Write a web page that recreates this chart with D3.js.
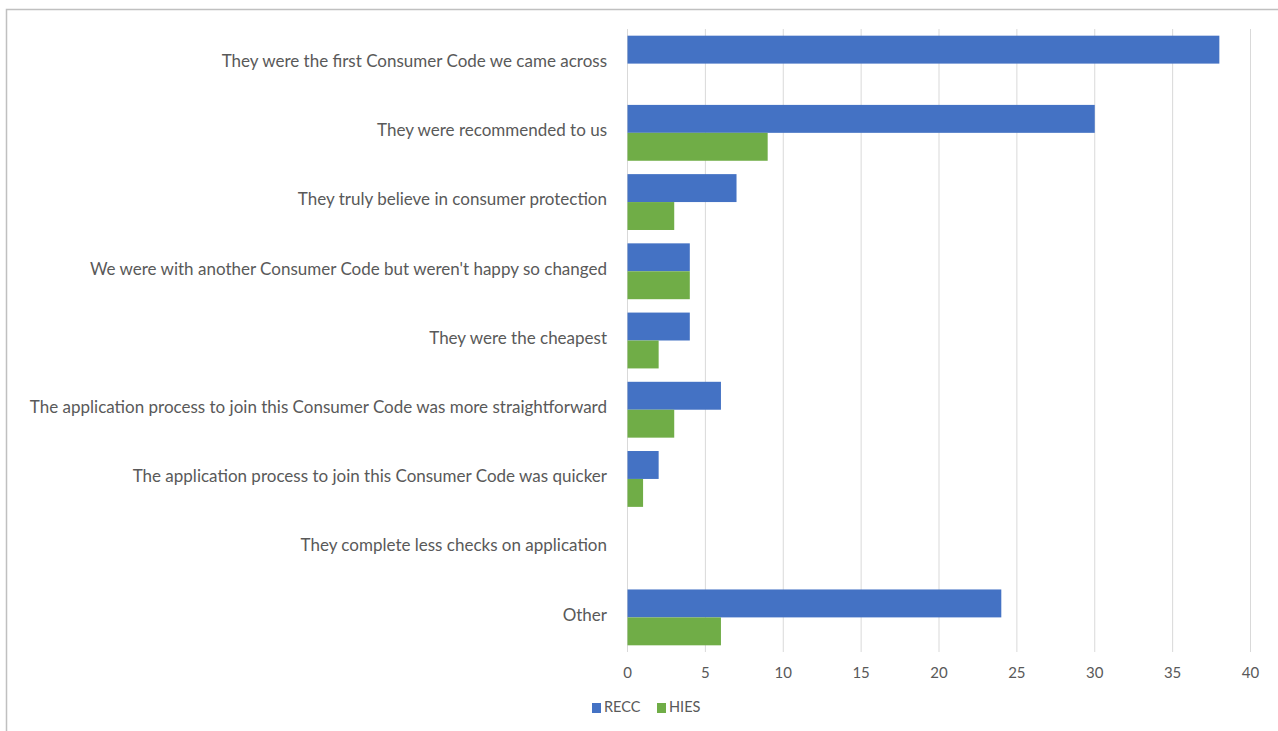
<!DOCTYPE html>
<html>
<head>
<meta charset="utf-8">
<script src="https://cdn.jsdelivr.net/npm/d3@7"></script>
<style>
  html, body { margin: 0; padding: 0; background: #fff; }
  svg { display: block; }
  text { font-family: Lato, "Open Sans", "Liberation Sans", sans-serif; fill: #595959; }
</style>
</head>
<body>
<svg id="chart" width="1278" height="731"></svg>
<script>
const categories = [
  "They were the first Consumer Code we came across",
  "They were recommended to us",
  "They truly believe in consumer protection",
  "We were with another Consumer Code but weren't happy so changed",
  "They were the cheapest",
  "The application process to join this Consumer Code was more straightforward",
  "The application process to join this Consumer Code was quicker",
  "They complete less checks on application",
  "Other"
];
const seriesNames = ["RECC", "HIES"];
const reccValues = [38, 30, 7, 4, 4, 6, 2, 0, 24];
const hiesValues = [0, 9, 3, 4, 2, 3, 1, 0, 6];
const xTicks = [0, 5, 10, 15, 20, 25, 30, 35, 40];
const colors = { RECC: "#4472C4", HIES: "#70AD47" };

const svg = d3.select("#chart");

// outer border
svg.append("rect")
  .attr("x", 6.5).attr("y", 9.5)
  .attr("width", 1400).attr("height", 900)
  .attr("fill", "none").attr("stroke", "#c0c0c0").attr("stroke-width", 1.5);

const plotTop = 29, plotBottom = 652;
const x = d3.scaleLinear().domain([0, 40]).range([627, 1250]);
const y = d3.scaleBand().domain(categories).range([plotTop, plotBottom])
  .paddingInner(0.193).paddingOuter(0.0965);
const sub = d3.scaleBand().domain(seriesNames).range([0, y.bandwidth()]);

// gridlines
svg.append("g").selectAll("line").data(xTicks).join("line")
  .attr("x1", d => x(d) + 0.5).attr("x2", d => x(d) + 0.5)
  .attr("y1", plotTop).attr("y2", plotBottom)
  .attr("stroke", "#d9d9d9").attr("stroke-width", 1);

// x axis via d3 axis (labels only)
const xAxis = svg.append("g").attr("transform", "translate(0,664)")
  .call(d3.axisBottom(x).tickValues(xTicks).tickSize(0).tickPadding(0));
xAxis.select(".domain").remove();
xAxis.selectAll("text").attr("font-size", 15).attr("fill", "#595959")
  .attr("dy", "0.9em")
  .style("font-family", 'Lato, "Open Sans", "Liberation Sans", sans-serif');

// data rows
const rows = categories.map((c, i) => ({ cat: c, RECC: reccValues[i], HIES: hiesValues[i] }));

const g = svg.append("g");
seriesNames.forEach(s => {
  g.selectAll("rect." + s).data(rows.filter(r => r[s] > 0)).join("rect")
    .attr("class", s)
    .attr("x", x(0) + 0.5)
    .attr("y", d => y(d.cat) + sub(s))
    .attr("width", d => x(d[s]) - x(0))
    .attr("height", sub.bandwidth())
    .attr("fill", colors[s]);
});

// category labels
const labels = svg.append("g").selectAll("text").data(categories).join("text")
  .attr("x", 607)
  .attr("y", d => y(d) + y.bandwidth() / 2 - 1)
  .attr("text-anchor", "end")
  .attr("dominant-baseline", "middle")
  .attr("font-size", 15)
  .text(d => d);

// fit longest label width to ~588px
let maxW = 0;
labels.each(function() { maxW = Math.max(maxW, this.getComputedTextLength()); });
const fs = Math.max(13, Math.min(17, 15 * 588 / maxW));
labels.attr("font-size", fs);

// legend
const legend = svg.append("g").attr("transform", "translate(592,708)");
const legendX = { RECC: 0, HIES: 65 };
seriesNames.forEach(s => {
  legend.append("rect").attr("x", legendX[s]).attr("y", -5).attr("width", 9).attr("height", 10)
    .attr("fill", colors[s]);
  legend.append("text").attr("x", legendX[s] + 12).attr("y", 0)
    .attr("dominant-baseline", "middle").attr("font-size", 14.5).text(s);
});
</script>
</body>
</html>
